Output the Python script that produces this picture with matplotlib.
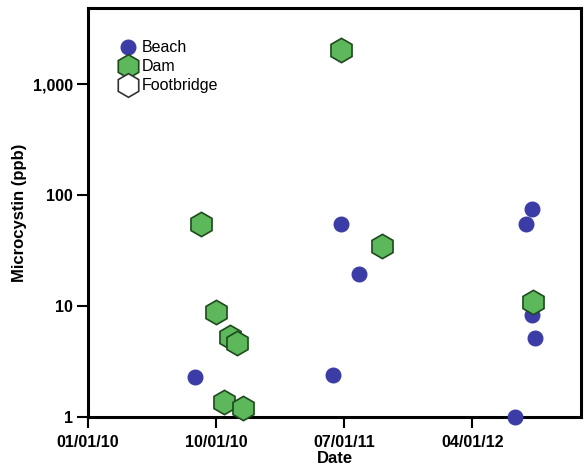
import matplotlib
matplotlib.use("Agg")
import matplotlib.pyplot as plt
import matplotlib.dates as mdates
from matplotlib.lines import Line2D
from matplotlib.ticker import FixedLocator, FuncFormatter
import numpy as np

plt.rcParams['font.family'] = ['Liberation Sans', 'DejaVu Sans']
plt.rcParams['font.weight'] = 'bold'

beach_dates = ['2010-08-18', '2011-06-07', '2011-06-26', '2011-08-02', '2012-06-30',
               '2012-07-24', '2012-08-06', '2012-08-06', '2012-08-12']
beach_vals = [2.3, 2.4, 55, 19.5, 1.0, 55, 75, 8.3, 5.2]

dam_dates = ['2010-08-31', '2010-10-02', '2010-10-31', '2010-11-15', '2010-10-19',
             '2010-11-28', '2011-06-25', '2011-09-21', '2012-08-08']
dam_vals = [55, 8.8, 5.3, 4.6, 1.37, 1.2, 2050, 35, 11]

foot_dates = []
foot_vals = []

xticks = ['2010-01-01', '2010-10-01', '2011-07-01', '2012-04-01']
yticks = [1, 10, 100, 1000]

blue = '#3c3ca6'
green = '#5cb85a'
green_edge = '#1e4a1e'

fig = plt.figure(figsize=(5.84, 4.69), dpi=100)
ax = fig.add_axes([0.151, 0.111, 0.844, 0.872])

ax.plot(np.array(beach_dates, dtype='datetime64[D]'), beach_vals, 'o', ms=10.5,
        color=blue, mec=blue, clip_on=False, zorder=3)
ax.plot(np.array(dam_dates, dtype='datetime64[D]'), dam_vals, 'h', ms=17.5,
        color=green, mec=green_edge, mew=1.2, clip_on=False, zorder=4)
ax.plot(np.array(foot_dates, dtype='datetime64[D]'), foot_vals, 'h', ms=17.5,
        color='white', mec='#333333', mew=1.2, clip_on=False, zorder=4)

ax.set_yscale('log')
ax.set_ylim(1, 4900)
ax.set_xlim(np.datetime64('2010-01-01'), np.datetime64('2012-11-19'))

ax.yaxis.set_major_locator(FixedLocator(yticks))
ax.yaxis.set_minor_locator(FixedLocator([]))
ax.yaxis.set_major_formatter(FuncFormatter(lambda v, p: f'{int(v):,}'))
ax.set_xticks(np.array(xticks, dtype='datetime64[D]'))
ax.xaxis.set_major_formatter(mdates.DateFormatter('%m/%d/%y'))

ax.tick_params(direction='out', length=8, width=1.5, labelsize=11.5)
ax.tick_params(axis='x', pad=5)
ax.tick_params(axis='y', pad=3)
for lab in ax.get_xticklabels() + ax.get_yticklabels():
    lab.set_fontweight('bold')
for s in ax.spines.values():
    s.set_linewidth(2.2)
    s.set_color('black')

ax.set_xlabel('Date', fontsize=12, fontweight='bold', labelpad=1)
ax.set_ylabel('Microcystin (ppb)', fontsize=12, fontweight='bold', labelpad=4)

handles = [
    Line2D([], [], marker='o', ls='', ms=10.5, color=blue, mec=blue),
    Line2D([], [], marker='h', ls='', ms=17, color=green, mec=green_edge, mew=1.2),
    Line2D([], [], marker='h', ls='', ms=17, color='white', mec='#333333', mew=1.2),
]
ax.legend(handles, ['Beach', 'Dam', 'Footbridge'], loc='upper left',
          bbox_to_anchor=(0.045, 0.948), frameon=False,
          prop={'weight': 'normal', 'size': 11.5}, handletextpad=0.45,
          labelspacing=0.25, borderaxespad=0.3, handlelength=0.8)

fig.savefig('out.png', dpi=100)
